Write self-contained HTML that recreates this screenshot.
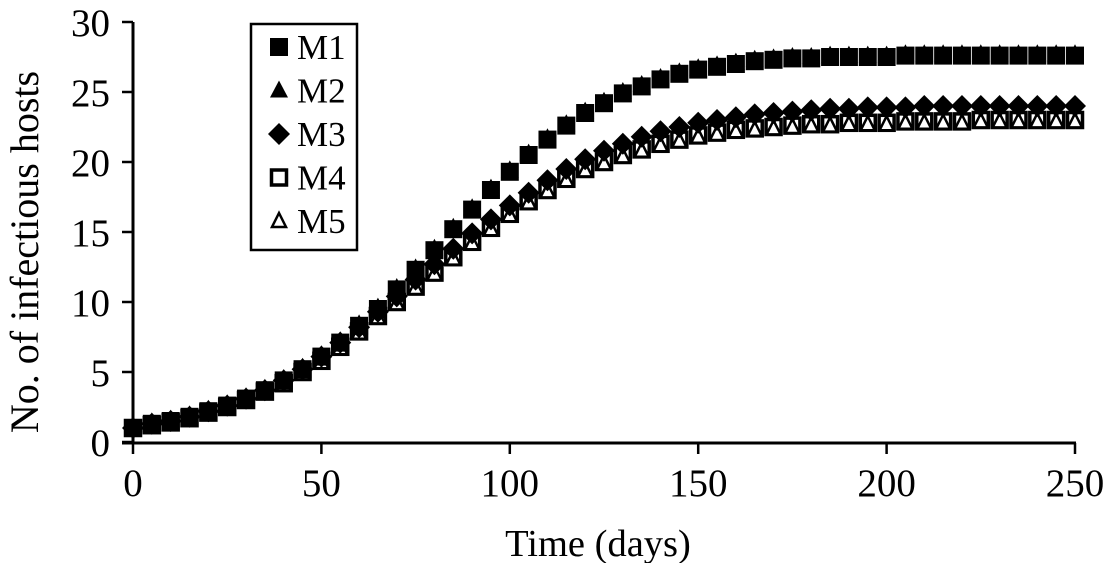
<!DOCTYPE html>
<html><head><meta charset="utf-8"><style>
body{margin:0;background:#fff;}
svg{display:block;font-family:"Liberation Serif",serif;}
</style></head><body>
<svg id="chart" width="1106" height="563">
<g id="axes"></g><g id="marks"></g>
<g>
<rect x="251" y="24" width="106" height="226" fill="#fff" stroke="#000" stroke-width="2.5"/>
<g id="legend"></g>
</g>
<text x="598" y="556" font-size="38.5" text-anchor="middle">Time (days)</text>
<text transform="translate(38,252) rotate(-90)" font-size="40" text-anchor="middle">No. of infectious hosts</text>
</svg>
<script>
const days=[0,5,10,15,20,25,30,35,40,45,50,55,60,65,70,75,80,85,90,95,100,105,110,115,120,125,130,135,140,145,150,155,160,165,170,175,180,185,190,195,200,205,210,215,220,225,230,235,240,245,250];
const early=[1,1.3,1.5,1.8,2.2,2.6,3.1,3.7,4.4,5.2,6.1,7.1];
const m1=early.concat([8.3,9.5,10.9,12.3,13.7,15.2,16.6,18.0,19.3,20.5,21.6,22.6,23.5,24.2,24.9,25.4,25.9,26.3,26.6,26.8,27.0,27.2,27.3,27.4,27.4,27.5,27.5,27.5,27.5,27.6,27.6,27.6,27.6,27.6,27.6,27.6,27.6,27.6,27.6]);
const m2=m1.map(v=>v+0.1);
const m3=early.concat([8.2,9.3,10.4,11.6,12.7,13.8,14.9,15.9,16.9,17.8,18.7,19.5,20.2,20.8,21.3,21.8,22.2,22.5,22.8,23.0,23.2,23.4,23.5,23.6,23.7,23.8,23.8,23.9,23.9,23.9,24.0,24.0,24.0,24.0,24.0,24.0,24.0,24.0,24.0]);
const m4=[1,1.2,1.4,1.7,2.1,2.5,3.0,3.6,4.2,5.0,5.8,6.8,7.9,9.0,10.0,11.1,12.1,13.2,14.3,15.3,16.3,17.2,18.0,18.8,19.5,20.0,20.5,20.9,21.3,21.6,21.9,22.1,22.3,22.4,22.5,22.6,22.7,22.7,22.8,22.8,22.8,22.9,22.9,22.9,22.9,23.0,23.0,23.0,23.0,23.0,23.0];
const m5=m4.map(v=>v-0.1);
const xTicks=[0,50,100,150,200,250];
const yTicks=[0,5,10,15,20,25,30];
const X=d=>133+d*(1075-133)/250;
const Y=v=>442-v*(442-22)/30;
const NS="http://www.w3.org/2000/svg";
function mk(tag,attrs,parent){const e=document.createElementNS(NS,tag);for(const k in attrs)e.setAttribute(k,attrs[k]);parent.appendChild(e);return e;}
const axes=document.getElementById('axes');
let a=mk('line',{x1:133,y1:22,x2:133,y2:443,stroke:'#000','stroke-width':3},axes);


a=mk('line',{x1:122,y1:443,x2:1076,y2:443,stroke:'#000','stroke-width':3},axes);


yTicks.forEach(t=>{const l=mk('line',{x1:122,x2:133,y1:Y(t),y2:Y(t),stroke:'#000','stroke-width':2.5},axes);


const tx=mk('text',{x:110,y:Y(t)+14,'font-size':39,'text-anchor':'end'},axes);tx.textContent=t;

});
xTicks.forEach(t=>{const l=mk('line',{x1:X(t),x2:X(t),y1:443,y2:454,stroke:'#000','stroke-width':2.5},axes);


const tx=mk('text',{x:X(t),y:496,'font-size':39,'text-anchor':'middle'},axes);tx.textContent=t;

});
function marker(type,cx,cy,g){
 let e;
 if(type==='sq')e=mk('rect',{x:cx-9,y:cy-9,width:18,height:18,fill:'#000'},g);
 else if(type==='osq')e=mk('rect',{x:cx-7.5,y:cy-7.5,width:15,height:15,fill:'#fff',stroke:'#000','stroke-width':3.5},g);
 else if(type==='tri')e=mk('polygon',{points:`${cx},${cy-10} ${cx+9},${cy+7} ${cx-9},${cy+7}`,fill:'#000'},g);
 else if(type==='otri')e=mk('polygon',{points:`${cx},${cy-8} ${cx+7},${cy+6} ${cx-7},${cy+6}`,fill:'#fff',stroke:'#000','stroke-width':2.5},g);
 else e=mk('polygon',{points:`${cx},${cy-11} ${cx+11},${cy} ${cx},${cy+11} ${cx-11},${cy}`,fill:'#000'},g);
 return e;
}
const marks=document.getElementById('marks');
const series=[['m4',m4,'osq'],['m5',m5,'otri'],['m3',m3,'dia'],['m2',m2,'tri'],['m1',m1,'sq']];
series.forEach(([n,vals,type])=>{
 const g=mk('g',{},marks);
 
 
 vals.forEach((v,i)=>{const e=marker(type,X(days[i]),Y(v),g);
 
 });
});
const lg=document.getElementById('legend');
const lItems=[['M1','sq'],['M2','tri'],['M3','dia'],['M4','osq'],['M5','otri']];
lItems.forEach(([lab,type],i)=>{
 const cy=47+i*43.5;
 const g=mk('g',{},lg);
 
 
 marker(type,279,cy,g);
 const t=mk('text',{x:297,y:cy+12,'font-size':35},g);t.textContent=lab;
});
</script>
</body></html>
